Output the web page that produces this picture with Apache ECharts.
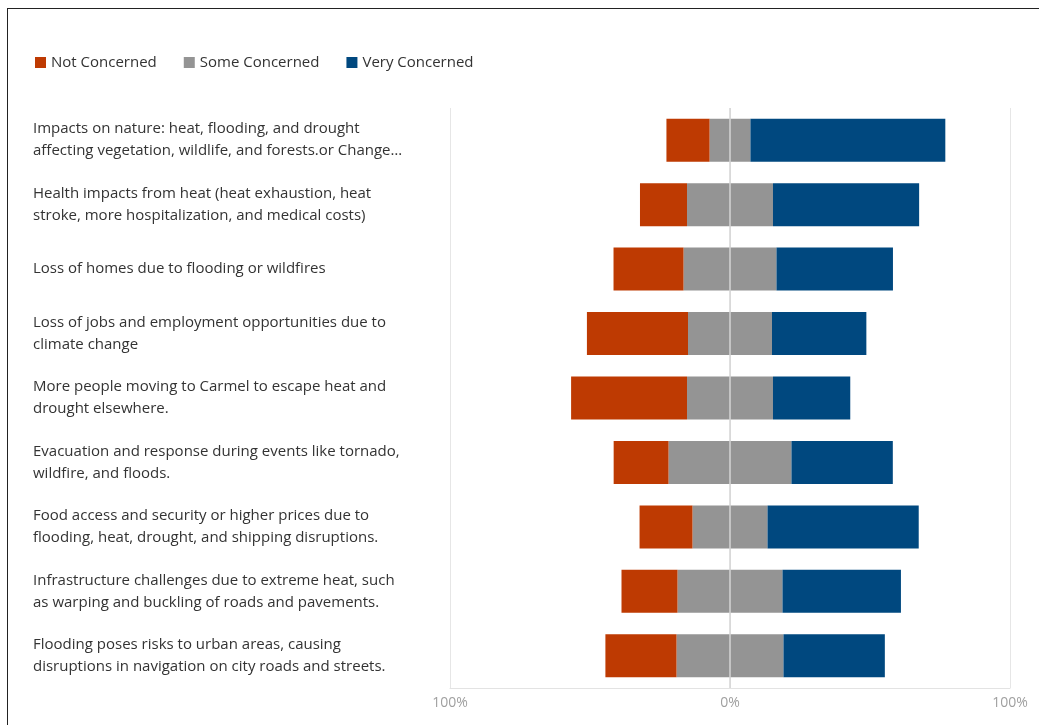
<!DOCTYPE html>
<html>
<head>
<meta charset="utf-8">
<script src="https://cdn.jsdelivr.net/npm/echarts@6/dist/echarts.min.js"></script>
<style>
html,body{margin:0;padding:0;background:#fff;}
#wrap{position:relative;width:1039px;height:725px;overflow:hidden;}
#frame{position:absolute;left:7px;top:8px;width:2000px;height:2000px;border:1px solid #222;box-sizing:border-box;pointer-events:none;}
#chart{position:absolute;left:0;top:0;width:1039px;height:725px;}
</style>
</head>
<body>
<div id="wrap">
<div id="chart"></div>
<div id="frame"></div>
</div>
<script>
var categories = [
  "Impacts on nature: heat, flooding, and drought\naffecting vegetation, wildlife, and forests.or Change…",
  "Health impacts from heat (heat exhaustion, heat\nstroke, more hospitalization, and medical costs)",
  "Loss of homes due to flooding or wildfires",
  "Loss of jobs and employment opportunities due to\nclimate change",
  "More people moving to Carmel to escape heat and\ndrought elsewhere.",
  "Evacuation and response during events like tornado,\nwildfire, and floods.",
  "Food access and security or higher prices due to\nflooding, heat, drought, and shipping disruptions.",
  "Infrastructure challenges due to extreme heat, such\nas warping and buckling of roads and pavements.",
  "Flooding poses risks to urban areas, causing\ndisruptions in navigation on city roads and streets."
];
var notConcerned  = [15.4, 16.8, 25.0, 36.1, 41.4, 19.6, 18.9, 20.0, 25.4];
var someConcerned = [14.6, 30.7, 33.2, 30.0, 30.7, 43.9, 26.8, 37.5, 38.2];
var veryConcerned = [69.6, 52.2, 41.6, 33.7, 27.6, 36.2, 54.0, 42.3, 36.2];
var xTicks = [-100, 0, 100];

var colors = {not:'#BE3A02', some:'#949494', very:'#00487F'};
var someLeft = someConcerned.map(function(v){return -v/2;});
var someRight = someConcerned.map(function(v){return v/2;});
var notNeg = notConcerned.map(function(v){return -v;});

var chart = echarts.init(document.getElementById('chart'));
var font = 'Open Sans';
chart.setOption({
  animation:false,
  textStyle:{fontFamily:font},
  legend:{
    data:['Not Concerned','Some Concerned','Very Concerned'],
    left:30, top:50,
    icon:'rect', itemWidth:11, itemHeight:11, itemGap:27,
    textStyle:{fontSize:15, color:'#333', fontFamily:font}
  },
  grid:{left:450, right:29, top:108, bottom:37},
  xAxis:{
    type:'value', min:-100, max:100, interval:100,
    axisLine:{show:true, lineStyle:{color:'#e3e3e3'}},
    axisTick:{show:false},
    splitLine:{show:true, lineStyle:{color:'#e6e6e6'}},
    axisLabel:{color:'#a0a0a0', fontSize:14, margin:8, fontFamily:font,
      formatter:function(v){return Math.abs(v)+'%';}}
  },
  yAxis:{
    type:'category', data:categories, inverse:true,
    axisLine:{show:false}, axisTick:{show:false},
    axisLabel:{align:'left', margin:417, fontSize:15, lineHeight:22, padding:[6,0,0,0], verticalAlign:'middle', color:'#333', fontFamily:font}
  },
  series:[
    {name:'Some Concerned', type:'bar', stack:'s', data:someLeft, barWidth:43,
     itemStyle:{color:colors.some}},
    {name:'Not Concerned', type:'bar', stack:'s', data:notNeg, barWidth:43,
     itemStyle:{color:colors.not}},
    {name:'Some Concerned', type:'bar', stack:'s', data:someRight, barWidth:43,
     itemStyle:{color:colors.some}},
    {name:'Very Concerned', type:'bar', stack:'s', data:veryConcerned, barWidth:43,
     itemStyle:{color:colors.very},
     markLine:{silent:true, symbol:'none', label:{show:false},
       lineStyle:{color:'#d4d4d4', width:1.5, type:'solid'},
       data:[{xAxis:xTicks[1]}]}}
  ]
});
</script>
</body>
</html>
